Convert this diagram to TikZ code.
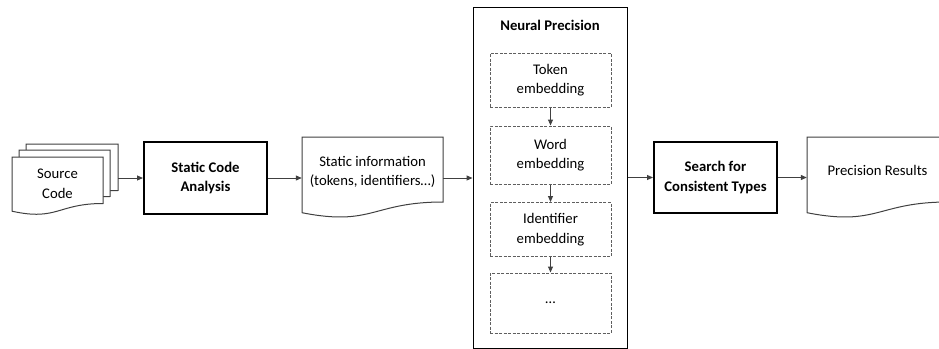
\documentclass[tikz,border=0pt]{standalone}
\usepackage{fontspec}
\setmainfont{Carlito}
\usetikzlibrary{arrows.meta}
\definecolor{linegray}{RGB}{64,64,64}
\definecolor{dashgray}{RGB}{95,95,95}
\tikzset{
  txt/.style={align=center, font=\fontsize{14.7}{19.5}\selectfont, inner sep=0pt},
  procbox/.style={draw=black, line width=2pt, minimum width=123pt, minimum height=72pt, align=center, font=\fontsize{14.7}{19.5}\selectfont\bfseries},
  layerbox/.style={draw=dashgray, line width=1pt, dash pattern=on 3pt off 1.5pt, minimum width=121pt, align=center, font=\fontsize{14.7}{19.5}\selectfont},
  page/.style={draw=linegray, line width=1pt, fill=white},
  flow/.style={-{Triangle[length=6pt,width=5pt]}, draw=linegray, line width=1pt},
}

\begin{document}
\begin{tikzpicture}[x=1pt, y=-1pt]
                    \clip (0,0) rectangle (939,348);
                    \fill[white] (0,0) rectangle (939,348);

                    % Source code stack
                    \draw[page] (26,144) -- (118,144) -- (118,190.5) .. controls (72,190.5) and (72,208.2) .. (26,198.2) -- cycle;
                    \draw[page] (19,150) -- (110,150) -- (110,196.5) .. controls (64.5,196.5) and (64.5,214.2) .. (19,204.2) -- cycle;
                    \draw[page] (12,157) -- (103,157) -- (103,203.5) .. controls (57.5,203.5) and (57.5,221.2) .. (12,211.2) -- cycle;
                    \node[minimum width=106pt, minimum height=71pt, inner sep=0pt] (src) at (65,179) {};
                    \node[txt] (srctxt) at (57.5,184) {Source\\Code};

                    % Static analysis
                    \node[procbox] (sca) at (205.5,178) {Static Code\\Analysis};

                    % Static information
                    \draw[page] (302,137) -- (443,137) -- (443,202) .. controls (372.5,202) and (372.5,226.7) .. (302,212.7) -- cycle;
                    \node[txt, minimum width=141pt] (info) at (372.5,172) {Static information\\(tokens, identifiers…)};

                    % Neural precision
                    \node[draw=black, line width=1pt, minimum width=154pt, minimum height=341pt, inner sep=0pt] (neural) at (550,177.5) {};
                    \node[txt, font=\fontsize{14.7}{19.5}\selectfont\bfseries] (nptitle) at (550,25) {Neural Precision};
                    \node[layerbox, minimum height=54pt] (tok) at (550.5,80) {Token\\embedding};
                    \node[layerbox, minimum height=58pt] (word) at (550.5,155) {Word\\embedding};
                    \node[layerbox, minimum height=54pt] (ident) at (550.5,229.5) {Identifier\\embedding};
                    \node[layerbox, minimum height=60pt] (more) at (550.5,303) {…};
                    \draw[flow] (tok) -- (word);
                    \draw[flow] (word) -- (ident);
                    \draw[flow] (ident) -- (more);

                    % Search
                    \node[procbox, minimum height=71pt] (search) at (715.5,177.5) {Search for\\Consistent Types};

                    % Results
                    \draw[page] (948,137) -- (807,137) -- (807,212.7) .. controls (877.5,226.7) and (877.5,202) .. (948,202);
                    \node[txt, minimum width=141pt] (res) at (877.5,170) {Precision Results};

                    % Arrows
                    \draw[flow] (src.east |- sca.west) -- (sca.west);
                    \draw[flow] (sca.east) -- (info.west |- sca.east);
                    \draw[flow] (info.east |- sca.east) -- (neural.west |- sca.east);
                    \draw[flow] (neural.east |- search.west) -- (search.west);
                    \draw[flow] (search.east) -- (res.west |- search.east);
\end{tikzpicture}
\end{document}
